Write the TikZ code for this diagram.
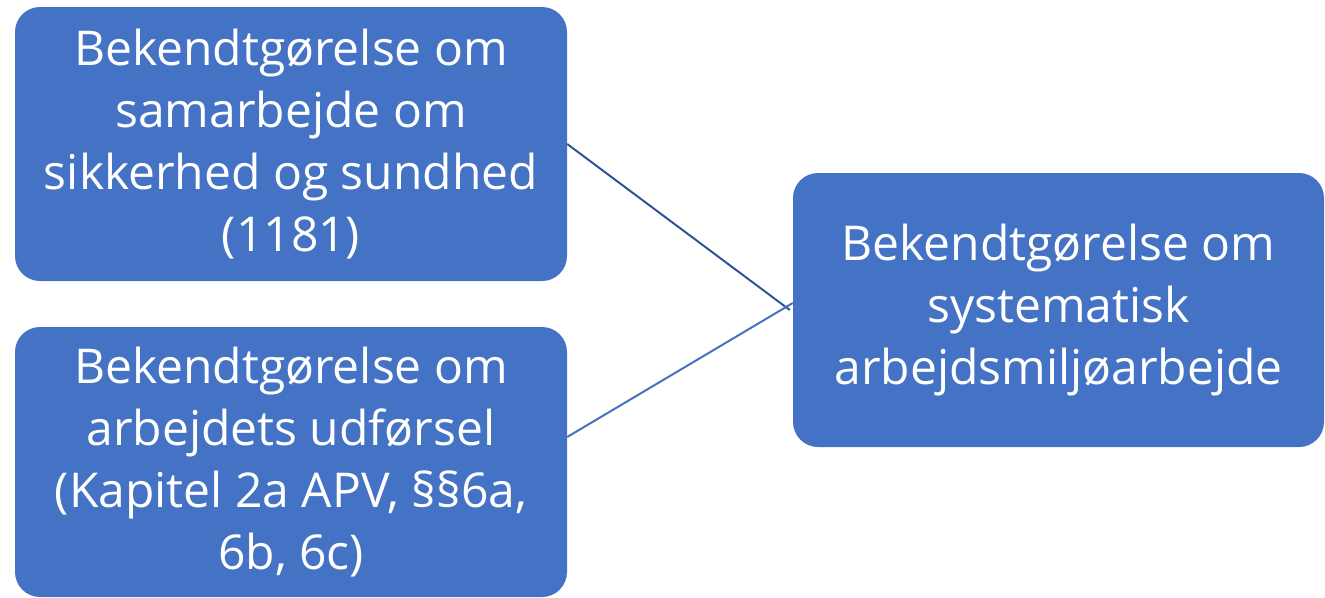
\documentclass[tikz,border=0pt]{standalone}
\usepackage{fontspec}
\setmainfont{Open Sans}
\usetikzlibrary{calc}
\definecolor{boxblue}{HTML}{4472C4}
\definecolor{linkblue}{HTML}{2F5597}
\tikzset{
  lawbox/.style={fill=boxblue, rounded corners=25pt, text=white, align=center,
    inner sep=0pt, font=\fontsize{48}{62}\selectfont},
  link/.style={line width=2pt}
}

\begin{document}
\begin{tikzpicture}[x=1pt, y=-1pt]
		%%%%% START %%%%%
		
		\useasboundingbox (0, 0) rectangle (1325, 597);
		
		\node[lawbox, minimum width=552pt, minimum height=274pt] (samarb) at (291, 144)
			{Bekendtgørelse om\\samarbejde om\\sikkerhed og sundhed\\(1181)};
		\node[lawbox, minimum width=552pt, minimum height=270pt] (udfoer) at (291, 462)
			{Bekendtgørelse om\\arbejdets udførsel\\(Kapitel 2a APV, §§6a,\\6b, 6c)};
		
		\node[lawbox, minimum width=531pt, minimum height=274pt] (system) at (1058.5, 310)
			{Bekendtgørelse om\\systematisk\\arbejdsmiljøarbejde};
		
		\draw[link, color=linkblue] (samarb.east) -- ([xshift=-3pt]system.west);
		\draw[link, color=boxblue] ([yshift=25pt]udfoer.east) -- ([yshift=7pt]system.west);
		
		%%%%% END %%%%%
	\end{tikzpicture}
\end{document}
